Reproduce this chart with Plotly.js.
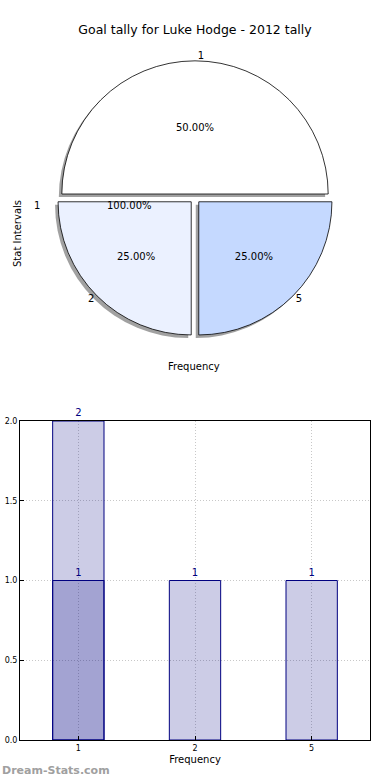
<!DOCTYPE html>
<html><head><meta charset="utf-8">
<script src="https://cdn.plot.ly/plotly-3.0.1.min.js"></script>
<style>html,body{margin:0;padding:0;background:#fff}#chart{width:390px;height:780px}</style>
</head><body><div id="chart"></div>
<script>
// Pie data
const pieLabels = ['1', '2', '5'];
const pieValues = [2, 1, 1];
const pieColors = ['#ffffff', '#ebf1ff', '#c5d9ff'];
const piePull = [0.03, 0.04, 0.04];
// Bar data
const barCats = ['1', '2', '5'];
const barValuesA = [2, 1, 1];
const barCatsB = ['1'];
const barValuesB = [1];
const yTicks = [0, 0.5, 1.0, 1.5, 2.0];

const W = 390, H = 780;
const cx = 195, cy = 198, box = 277;
function dom(x0, y0, w, h) {
  return {x: [x0 / W, (x0 + w) / W], y: [1 - (y0 + h) / H, 1 - y0 / H]};
}
const mainDom = dom(cx - box / 2, cy - box / 2, box, box);
const shDom = dom(cx - box / 2 - 3, cy - box / 2 + 3, box, box);

const font = 'DejaVu Sans, Liberation Sans, sans-serif';
const traces = [
  { type: 'pie', labels: pieLabels, values: pieValues, sort: false, direction: 'counterclockwise',
    rotation: -90, pull: piePull, domain: shDom,
    marker: {colors: ['#8a8a8a', '#8a8a8a', '#8a8a8a'], line: {width: 0}},
    textinfo: 'none', hoverinfo: 'skip', showlegend: false, opacity: 0.8 },
  { type: 'pie', labels: pieLabels, values: pieValues, sort: false, direction: 'counterclockwise',
    rotation: -90, pull: piePull, domain: mainDom,
    marker: {colors: pieColors, line: {color: '#000', width: 0.8}},
    texttemplate: '%{percent:.2%}', textposition: 'inside', insidetextorientation: 'horizontal',
    textfont: {family: font, size: 10, color: '#000'}, showlegend: false },
  { type: 'pie', labels: pieLabels, values: pieValues, sort: false, direction: 'counterclockwise',
    rotation: -90, pull: piePull, domain: mainDom,
    marker: {colors: ['rgba(0,0,0,0)', 'rgba(0,0,0,0)', 'rgba(0,0,0,0)'], line: {width: 0}},
    textinfo: 'label', textposition: 'outside', hoverinfo: 'skip',
    textfont: {family: font, size: 10, color: '#000'}, showlegend: false },
  { type: 'bar', x: barCats, y: barValuesA, width: 0.44,
    marker: {color: 'rgba(0,0,128,0.2)', line: {color: '#000080', width: 1}},
    text: barValuesA.map(String), textposition: 'outside', cliponaxis: false,
    textfont: {family: font, size: 10, color: '#000080'}, showlegend: false },
  { type: 'bar', x: barCatsB, y: barValuesB, width: 0.44,
    marker: {color: 'rgba(0,0,128,0.2)', line: {color: '#000080', width: 1}},
    text: barValuesB.map(String), textposition: 'outside', cliponaxis: false,
    textfont: {family: font, size: 10, color: '#000080'}, showlegend: false }
];

const layout = {
  width: W, height: H, margin: {l: 0, r: 0, t: 0, b: 0},
  paper_bgcolor: '#fff', plot_bgcolor: '#fff',
  font: {family: font, color: '#000'},
  barmode: 'overlay',
  title: {text: 'Goal tally for Luke Hodge - 2012 tally', font: {family: font, size: 12.5, color: '#000'},
          x: 0.5, xanchor: 'center', y: 1 - 30 / H, yanchor: 'middle', yref: 'container'},
  xaxis: {type: 'category', domain: [20 / W, 370 / W], anchor: 'y', range: [-0.5, 2.5],
          showline: true, mirror: true, linecolor: '#000', linewidth: 1,
          ticks: 'inside', ticklen: 4, tickcolor: '#000', tickfont: {size: 8, family: font},
          showgrid: true, gridcolor: '#c8c8c8', griddash: '1px,2px', gridwidth: 1,
          title: {text: 'Frequency', font: {size: 10, family: font}, standoff: 4}, zeroline: false},
  yaxis: {domain: [40 / H, 359 / H], anchor: 'x', range: [0, 2], tickvals: yTicks,
          ticktext: yTicks.map(v => v.toFixed(1)),
          showline: true, mirror: true, linecolor: '#000', linewidth: 1,
          ticks: 'inside', ticklen: 4, tickcolor: '#000', tickfont: {size: 8, family: font},
          showgrid: true, gridcolor: '#c8c8c8', griddash: '1px,2px', gridwidth: 1, zeroline: false},
  annotations: [
    {text: 'Stat Intervals', textangle: -90, x: 10 / W, y: 1 - 198 / H, xref: 'paper', yref: 'paper',
     showarrow: false, font: {size: 10, family: font}},
    {text: 'Frequency', x: 194 / W, y: 1 - 366 / H, xref: 'paper', yref: 'paper',
     showarrow: false, font: {size: 10, family: font}},
    {text: '1', x: 32 / W, y: 1 - 198 / H, xref: 'paper', yref: 'paper',
     showarrow: false, font: {size: 10, family: font}},
    {text: '100.00%', x: 105 / W, y: 1 - 198 / H, xref: 'paper', yref: 'paper',
     showarrow: false, font: {size: 10, family: font}},
    {text: '<b>Dream-Stats.com</b>', x: 0, y: 1 - 770 / H, xref: 'paper', yref: 'paper', xanchor: 'left',
     yanchor: 'middle', showarrow: false, font: {size: 11, family: font, color: '#a0a0a0'}}
  ]
};
Plotly.newPlot('chart', traces, layout, {displayModeBar: false, staticPlot: true});
</script></body></html>
